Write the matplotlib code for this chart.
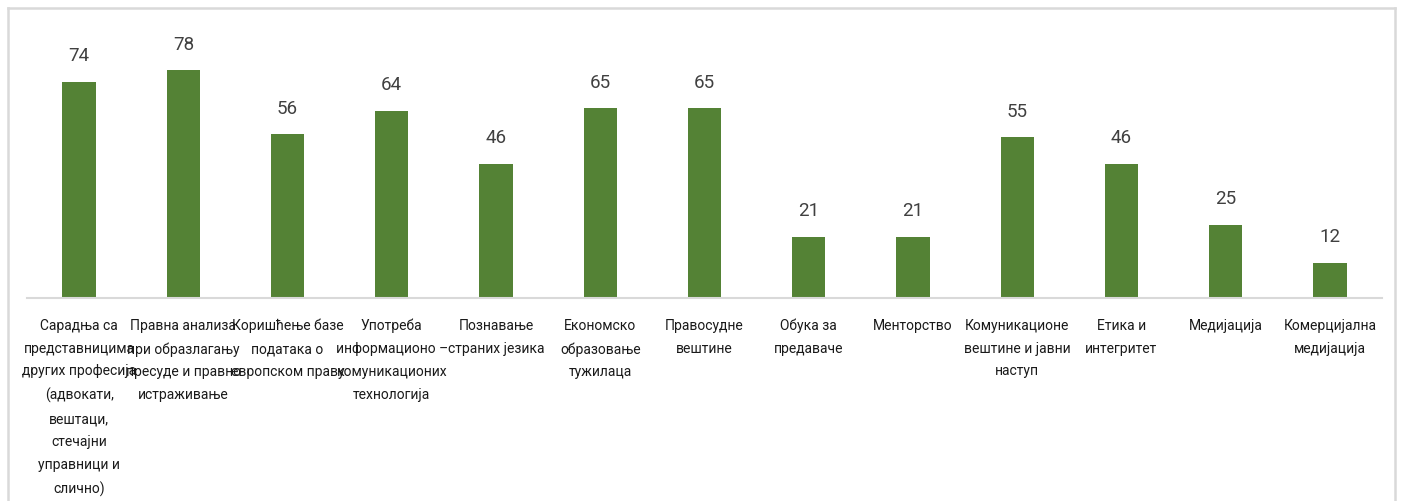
import matplotlib.pyplot as plt
from matplotlib.lines import Line2D

labels = ['Сарадња са\nпредставницима\nдругих професија\n(адвокати,\nвештаци,\nстечајни\nуправници и\nслично)',
          'Правна анализа\nпри образлагању\nпресуде и правно\nистраживање',
          'Коришћење базе\nподатака о\nевропском праву',
          'Употреба\nинформационо –\nкомуникационих\nтехнологија',
          'Познавање\nстраних језика',
          'Економско\nобразовање\nтужилаца',
          'Правосудне\nвештине',
          'Обука за\nпредаваче',
          'Менторство',
          'Комуникационе\nвештине и јавни\nнаступ',
          'Етика и\nинтегритет',
          'Медијација',
          'Комерцијална\nмедијација']
values = [74, 78, 56, 64, 46, 65, 65, 21, 21, 55, 46, 25, 12]

plt.rcParams['font.family'] = ['Roboto', 'DejaVu Sans']

fig = plt.figure(figsize=(14.01, 5.01), dpi=100)
ax = fig.add_axes([27/1401, 203/501, 1355/1401, 278/501])

x = range(len(values))
bars = ax.bar(x, values, width=0.32, color='#548235')
for xi, v in zip(x, values):
    ax.annotate(str(v), (xi, v), xytext=(0, 12), textcoords='offset points',
                ha='center', va='bottom', fontsize=13.5, color='#404040')

ax.set_xlim(-0.5, 12.5)
ax.set_ylim(0, 278/2.92)
ax.set_xticks(list(x))
ax.set_xticklabels(labels, fontsize=10, color='#1a1a1a', linespacing=1.8)
ax.tick_params(axis='x', length=0, pad=15)
ax.set_yticks([])
for s in ['top', 'right', 'left']:
    ax.spines[s].set_visible(False)
ax.spines['bottom'].set_color('#d9d9d9')
ax.spines['bottom'].set_linewidth(1.5)

# outer frame (open at the bottom)
fc = '#d9d9d9'
fig.add_artist(Line2D([8/1401, 8/1401], [0, 1 - 8/501], color=fc, lw=1.8))
fig.add_artist(Line2D([8/1401, 1395/1401], [1 - 8/501, 1 - 8/501], color=fc, lw=1.8))
fig.add_artist(Line2D([1395/1401, 1395/1401], [0, 1 - 8/501], color=fc, lw=1.8))

fig.savefig('out.png', dpi=100)
